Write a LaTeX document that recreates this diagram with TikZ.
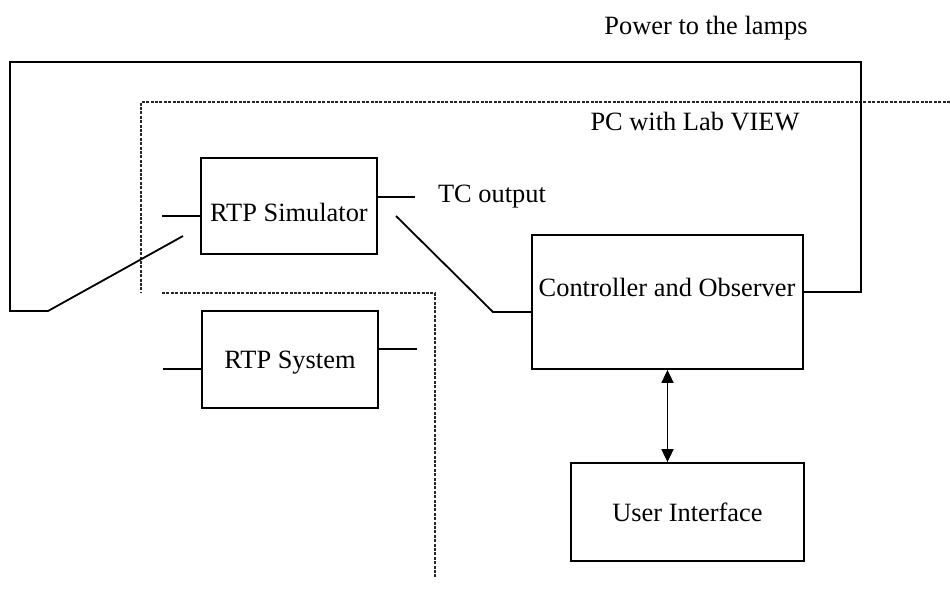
\documentclass[tikz,border=0pt]{standalone}
\usepackage{fontspec}
\setmainfont{Liberation Serif}
\usetikzlibrary{arrows.meta}

\tikzset{
  blk/.style={draw, line width=0.9pt, inner sep=0pt, font=\fontsize{13.2}{15}\selectfont},
  lbl/.style={inner sep=0pt, font=\fontsize{13.2}{15}\selectfont},
  wire/.style={line width=0.9pt},
  pcline/.style={line width=0.6pt, black!85, dash pattern=on 1.5pt off 0.7pt}
}

\begin{document}
\begin{tikzpicture}[x=0.5pt, y=-0.5pt]
                \useasboundingbox (0,0) rectangle (950,595);
                % Blocks
                \node [blk, minimum width=88pt, minimum height=48pt] (sim) at (289,206) {};
                \node [lbl] (simtxt) at (289,212) {RTP Simulator};
                \node [blk, minimum width=88pt, minimum height=48.5pt] (sys) at (290,359.5) {};
                \node [lbl] (systxt) at (290,363) {RTP System};
                \node [blk, minimum width=135.5pt, minimum height=67pt] (ctrl) at (667.5,302) {};
                \node [lbl] (ctrltxt) at (667,287) {Controller and Observer};
                \node [blk, minimum width=116.5pt, minimum height=49pt] (ui) at (687.5,512) {User Interface};
                % Labels
                \node [lbl] (pwr) at (706,28) {Power to the lamps};
                \node [lbl] (pclbl) at (695,122) {PC with Lab VIEW};
                \node [lbl] (tcout) at (492,197) {TC output};
                % PC border
                \coordinate (pcA) at (950,102);
                \coordinate (pcB) at (141,102);
                \coordinate (pcC) at (141,293);
                \coordinate (pcD) at (162,293);
                \coordinate (pcE) at (435,293);
                \coordinate (pcF) at (435,578);
                \draw [pcline] (pcA) -- (pcB) -- (pcC);
                \draw [pcline] (pcD) -- (pcE) -- (pcF);
                % Power loop with switch
                \coordinate (swtip) at (183,236);
                \coordinate (swbase) at (48,311);
                \coordinate (loopBL) at (10,311);
                \coordinate (loopTL) at (10,62);
                \coordinate (loopTR) at (861,62);
                \coordinate (loopBR) at (861,292);
                \draw [wire] (swtip) -- (swbase) -- (loopBL) -- (loopTL) -- (loopTR) -- (loopBR) -- (loopBR -| ctrl.east);
                % Simulator terminals
                \coordinate (simin) at (162,216);
                \draw [wire] (simin) -- (simin -| sim.west);
                \coordinate (tcend) at (415,197);
                \draw [wire] (tcend -| sim.east) -- (tcend);
                % Switch to controller
                \coordinate (sw2tip) at (396,216);
                \coordinate (sw2base) at (493,312);
                \draw [wire] (sw2tip) -- (sw2base) -- (sw2base -| ctrl.west);
                % System terminals
                \coordinate (sysin) at (163,369);
                \draw [wire] (sysin) -- (sysin -| sys.west);
                \coordinate (sysout) at (417,349);
                \draw [wire] (sysout -| sys.east) -- (sysout);
                % Controller <-> UI
                \draw [wire, {Triangle[length=6.5pt,width=6pt]}-{Triangle[length=6.5pt,width=6pt]}] (ctrl.south) -- (ctrl.south |- ui.north);
            \end{tikzpicture}
\end{document}
